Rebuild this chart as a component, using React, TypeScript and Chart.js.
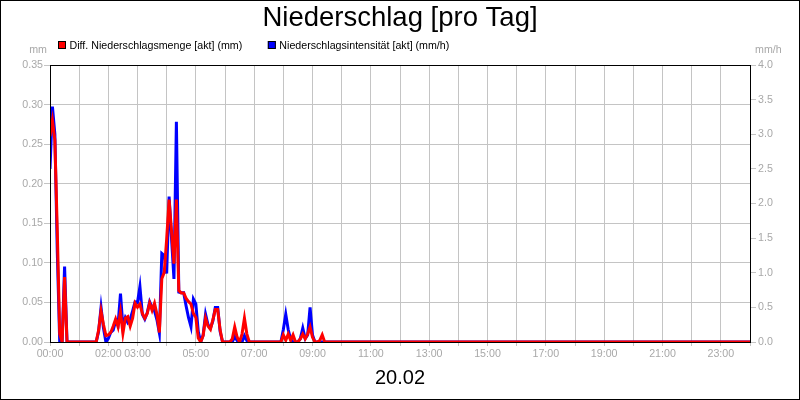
import { useEffect, useRef } from "react";
import { Chart, registerables } from "chart.js";

Chart.register(...registerables);

const chartTitle = "Niederschlag [pro Tag]";
const dateLabel = "20.02";
const seriesNames = [
  "Diff. Niederschlagsmenge [akt] (mm)",
  "Niederschlagsintensität [akt] (mm/h)",
];
const seriesColors = ["#ff0000", "#0000ff"];
const leftUnit = "mm";
const rightUnit = "mm/h";

const hourTickLabels = [
  "00:00", "", "02:00", "03:00", "", "05:00", "", "07:00", "", "09:00", "", "11:00", "",
  "13:00", "", "15:00", "", "17:00", "", "19:00", "", "21:00", "", "23:00", "",
];

const sampleStepMinutes = 5;
const dayEndMinute = 1440;
const dayEndValue = 0;

// Diff. Niederschlagsmenge (mm), 5-minute samples from 00:00 to 10:00
const amountMm = [
  0.26, 0.28, 0.255, 0.14, 0.01, 0, 0.082, 0, 0, 0,
  0, 0, 0, 0, 0, 0, 0, 0, 0, 0,
  0.015, 0.039, 0.022, 0.008, 0.009, 0.012, 0.02, 0.029, 0.019, 0.038,
  0.011, 0.03, 0.032, 0.02, 0.03, 0.049, 0.044, 0.048, 0.036, 0.03,
  0.036, 0.049, 0.04, 0.049, 0.035, 0.012, 0.08, 0.088, 0.13, 0.18,
  0.14, 0.099, 0.18, 0.065, 0.062, 0.062, 0.055, 0.051, 0.048, 0.036,
  0.031, 0.005, 0, 0.008, 0.03, 0.02, 0.016, 0.028, 0.041, 0.041,
  0.015, 0, 0, 0, 0, 0.004, 0.019, 0.006, 0, 0.01,
  0.03, 0.01, 0, 0, 0, 0, 0, 0, 0, 0,
  0, 0, 0, 0, 0, 0, 0.009, 0.002, 0.01, 0.002,
  0.009, 0, 0, 0.004, 0.01, 0.004, 0.01, 0.019, 0.006, 0,
  0, 0.002, 0.009, 0, 0, 0, 0, 0, 0, 0,
  0,
];

// Niederschlagsintensität (mm/h), 5-minute samples from 00:00 to 10:00
const intensityMmH = [
  2.5, 3.4, 3.0, 1.3, 0, 0, 1.09, 0, 0, 0,
  0, 0, 0, 0, 0, 0, 0, 0, 0, 0,
  0.15, 0.5, 0.2, 0, 0.05, 0.14, 0.17, 0.3, 0.25, 0.7,
  0.22, 0.35, 0.28, 0.33, 0.45, 0.58, 0.57, 0.8, 0.4, 0.33,
  0.42, 0.58, 0.5, 0.45, 0.32, 0.13, 1.28, 1.25, 0.99, 2.1,
  1.5, 0.91, 3.18, 0.72, 0.71, 0.71, 0.52, 0.35, 0.22, 0.62,
  0.55, 0.15, 0, 0.1, 0.4, 0.25, 0.2, 0.3, 0.5, 0.5,
  0.15, 0, 0, 0, 0, 0, 0.08, 0.02, 0, 0,
  0.09, 0.02, 0, 0, 0, 0, 0, 0, 0, 0,
  0, 0, 0, 0, 0, 0, 0.18, 0.4, 0.18, 0.04,
  0, 0, 0, 0.05, 0.2, 0.05, 0.1, 0.5, 0.1, 0,
  0, 0, 0, 0, 0, 0, 0, 0, 0, 0,
  0,
];

const FONT = "'Liberation Sans', Arial, sans-serif";
const SMALL = 10.67;
const TICK_COLOR = "#a8a8a8";
const GRID_COLOR = "#c4c4c4";

function toPoints(values: number[]) {
  const pts = values.map((v, i) => ({ x: i * sampleStepMinutes, y: v }));
  pts.push({ x: dayEndMinute, y: dayEndValue });
  return pts;
}

const framePlugin = {
  id: "frameAndLegend",
  afterDraw(chart: any) {
    const ctx = chart.ctx as CanvasRenderingContext2D;
    const { left, top, right, bottom } = chart.chartArea;
    ctx.save();
    ctx.strokeStyle = "#000";
    ctx.lineWidth = 1;
    ctx.strokeRect(left + 0.5, top + 0.5, right - left, bottom - top);
    ctx.strokeRect(0.5, 0.5, chart.width - 1, chart.height - 1);

    // legend
    ctx.font = `${SMALL}px ${FONT}`;
    ctx.textBaseline = "alphabetic";
    ctx.textAlign = "left";
    let x = 58;
    chart.data.datasets.forEach((ds: any) => {
      ctx.fillStyle = ds.borderColor;
      ctx.fillRect(x, 41, 8, 8);
      ctx.strokeStyle = "#000";
      ctx.strokeRect(x + 0.5, 41.5, 7, 7);
      ctx.fillStyle = "#000";
      ctx.fillText(ds.label, x + 11.5, 49);
      x += 11.5 + ctx.measureText(ds.label).width + 25.6;
    });

    // unit labels
    ctx.fillStyle = TICK_COLOR;
    ctx.textAlign = "right";
    ctx.fillText(leftUnit, 47, 53);
    ctx.textAlign = "left";
    ctx.fillText(rightUnit, 755, 53);
    ctx.restore();
  },
};

export default function App() {
  const ref = useRef<HTMLCanvasElement | null>(null);

  useEffect(() => {
    if (!ref.current) return;
    Chart.defaults.font.family = FONT;
    Chart.defaults.font.size = SMALL;
    const chart = new Chart(ref.current, {
      type: "line",
      data: {
        datasets: [
          {
            label: seriesNames[0],
            data: toPoints(amountMm),
            borderColor: seriesColors[0],
            backgroundColor: seriesColors[0],
            borderWidth: 3,
            pointRadius: 0,
            tension: 0,
            yAxisID: "y",
          },
          {
            label: seriesNames[1],
            data: toPoints(intensityMmH),
            borderColor: seriesColors[1],
            backgroundColor: seriesColors[1],
            borderWidth: 3,
            pointRadius: 0,
            tension: 0,
            yAxisID: "y1",
          },
        ],
      },
      options: {
        animation: false,
        responsive: false,
        devicePixelRatio: 1,
        layout: { padding: 0 },
        plugins: {
          legend: { display: false },
          tooltip: { enabled: false },
          title: {
            display: true,
            text: chartTitle,
            color: "#000",
            font: { size: 27.5, weight: "normal", family: FONT, lineHeight: 1.2 },
            padding: { top: 2, bottom: 30 },
          },
        },
        scales: {
          x: {
            type: "linear",
            min: 0,
            max: dayEndMinute,
            afterFit: (s: any) => {
              s.height = 58;
            },
            border: { display: false },
            grid: { color: GRID_COLOR, tickLength: 4, tickColor: GRID_COLOR },
            ticks: {
              stepSize: 60,
              autoSkip: false,
              maxRotation: 0,
              color: TICK_COLOR,
              padding: 2,
              font: { size: SMALL },
              callback: (_v: any, i: number) => hourTickLabels[i] ?? "",
            },
            title: {
              display: true,
              text: dateLabel,
              color: "#000",
              font: { size: 20, family: FONT },
              padding: { top: 0, bottom: 10 },
            },
          },
          y: {
            position: "left",
            min: 0,
            max: 0.35,
            afterFit: (s: any) => {
              s.width = 50;
            },
            border: { display: false },
            grid: { color: GRID_COLOR, tickLength: 6, tickColor: GRID_COLOR },
            ticks: {
              stepSize: 0.05,
              color: TICK_COLOR,
              padding: 1,
              font: { size: SMALL },
              callback: (v: any) => Number(v).toFixed(2),
            },
          },
          y1: {
            position: "right",
            min: 0,
            max: 4,
            afterFit: (s: any) => {
              s.width = 50;
            },
            border: { display: false },
            grid: { drawOnChartArea: false, tickLength: 6, color: GRID_COLOR, tickColor: GRID_COLOR },
            ticks: {
              stepSize: 0.5,
              color: TICK_COLOR,
              padding: 2,
              font: { size: SMALL },
              callback: (v: any) => Number(v).toFixed(1),
            },
          },
        },
      },
      plugins: [framePlugin],
    });
    return () => chart.destroy();
  }, []);

  return (
    <div style={{ position: "fixed", left: 0, top: 0, width: 800, height: 400, background: "#fff" }}>
      <canvas ref={ref} width={800} height={400} style={{ display: "block", width: 800, height: 400 }} />
    </div>
  );
}
